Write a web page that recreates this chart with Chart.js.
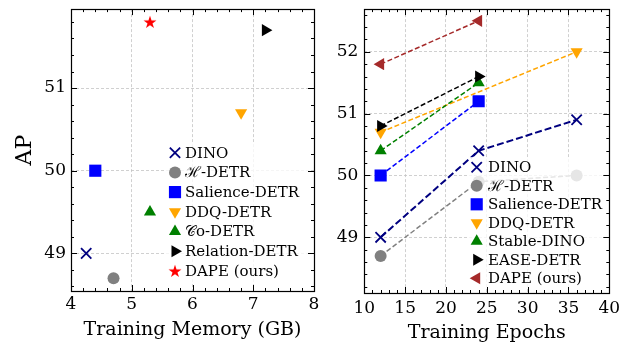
<!DOCTYPE html>
<html>
<head>
<meta charset="utf-8">
<script src="https://cdn.jsdelivr.net/npm/chart.js@4/dist/chart.umd.min.js"></script>
<style>
  body { margin: 0; background: #fff; }
  #left { position: absolute; left: 0; top: 0; width: 330px; height: 350px; }
  #right { position: absolute; left: 330px; top: 0; width: 303px; height: 350px; }
</style>
</head>
<body>
<div id="left"><canvas id="memChart" width="330" height="350"></canvas></div>
<div id="right"><canvas id="epochChart" width="303" height="350"></canvas></div>
<script>
// left panel: AP vs training memory
var methodsMem = ['DINO', 'ℋ-DETR', 'Salience-DETR', 'DDQ-DETR', '𝒞o-DETR', 'Relation-DETR', 'DAPE (ours)'];
var memoryGB = [4.25, 4.7, 4.4, 6.8, 5.3, 7.2, 5.3];
var memoryAP = [49.0, 48.7, 50.0, 50.7, 49.5, 51.7, 51.8];
var memXTicks = [4, 5, 6, 7, 8];
var memYTicks = [49, 50, 51];

// right panel: AP vs training epochs
var methodsEp = ['DINO', 'ℋ-DETR', 'Salience-DETR', 'DDQ-DETR', 'Stable-DINO', 'EASE-DETR', 'DAPE (ours)'];
var epochsDINO = [12, 24, 36];
var apDINO = [49.0, 50.4, 50.9];
var epochsHDETR = [12, 24, 36];
var apHDETR = [48.7, 49.9, 50.0];
var epochsSalience = [12, 24];
var apSalience = [50.0, 51.2];
var epochsDDQ = [12, 36];
var apDDQ = [50.7, 52.0];
var epochsStable = [12, 24];
var apStable = [50.4, 51.5];
var epochsEASE = [12, 24];
var apEASE = [50.8, 51.6];
var epochsDAPE = [12, 24];
var apDAPE = [51.8, 52.5];
var epXTicks = [10, 15, 20, 25, 30, 35, 40];
var epYTicks = [49, 50, 51, 52];

var SERIF = '"DejaVu Serif", serif';

function makeStar(color, r) {
  var c = document.createElement('canvas');
  var s = Math.ceil(r * 2) + 2;
  c.width = s; c.height = s;
  var g = c.getContext('2d');
  g.fillStyle = color;
  g.beginPath();
  for (var i = 0; i < 10; i++) {
    var rr = i % 2 ? r * 0.382 : r;
    var a = -Math.PI / 2 + i * Math.PI / 5;
    g.lineTo(s / 2 + rr * Math.cos(a), s / 2 + 0.6 + rr * Math.sin(a));
  }
  g.closePath();
  g.fill();
  return c;
}

var memMarkers = [
  {color: '#000080', style: 'crossRot', rot: 0, r: 7.3, bw: 1.8},
  {color: '#808080', style: 'circle', rot: 0, r: 6, bw: 0},
  {color: '#0000ff', style: 'rect', rot: 0, r: 8.6, bw: 0},
  {color: '#ffa500', style: 'triangle', rot: 180, r: 7, bw: 0},
  {color: '#008000', style: 'triangle', rot: 0, r: 7, bw: 0},
  {color: '#000000', style: 'triangle', rot: 90, r: 7, bw: 0},
  {color: '#ff0000', style: makeStar('#ff0000', 6.8), rot: 0, r: 7, bw: 0}
];
var epMarkers = memMarkers.slice(0, 6).concat([
  {color: '#a52a2a', style: 'triangle', rot: -90, r: 7, bw: 0}
]);
epMarkers = epMarkers.map(function (m, i) {
  return Object.assign({}, m, {
    lw: i === 0 ? 2 : 1.5,
    dash: i === 0 ? [7, 3] : [5, 2.5]
  });
});
var epochSeries = [
  [epochsDINO, apDINO], [epochsHDETR, apHDETR], [epochsSalience, apSalience],
  [epochsDDQ, apDDQ], [epochsStable, apStable], [epochsEASE, apEASE], [epochsDAPE, apDAPE]
];

// inward ticks on all four sides + black frame
var framePlugin = {
  id: 'frame',
  afterDraw: function (chart, args, o) {
    var ctx = chart.ctx, a = chart.chartArea;
    var xs = chart.scales.x, ys = chart.scales.y;
    ctx.save();
    ctx.strokeStyle = '#000';
    ctx.lineWidth = 1;
    ctx.beginPath();
    function isMajor(v, step) {
      return Math.abs(v / step - Math.round(v / step)) < 1e-6;
    }
    var v, p, len;
    for (v = Math.ceil(xs.min / o.xMinor - 1e-6) * o.xMinor; v <= xs.max + 1e-6; v += o.xMinor) {
      p = Math.round(xs.getPixelForValue(v)) + 0.5;
      len = isMajor(v, o.xMajor) ? 6 : 3;
      ctx.moveTo(p, a.bottom); ctx.lineTo(p, a.bottom - len);
      ctx.moveTo(p, a.top); ctx.lineTo(p, a.top + len);
    }
    for (v = Math.ceil(ys.min / o.yMinor - 1e-6) * o.yMinor; v <= ys.max + 1e-6; v += o.yMinor) {
      p = Math.round(ys.getPixelForValue(v)) + 0.5;
      len = isMajor(v, o.yMajor) ? 6 : 3;
      ctx.moveTo(a.left, p); ctx.lineTo(a.left + len, p);
      ctx.moveTo(a.right, p); ctx.lineTo(a.right - len, p);
    }
    ctx.stroke();
    ctx.lineWidth = 1.2;
    ctx.strokeRect(Math.round(a.left) + 0.5, Math.round(a.top) + 0.5,
      Math.round(a.right) - Math.round(a.left), Math.round(a.bottom) - Math.round(a.top));
    ctx.restore();
  }
};

// legend drawn inside the plot with a semi-opaque white box
var boxLegend = {
  id: 'boxLegend',
  afterDatasetsDraw: function (chart, args, o) {
    var ctx = chart.ctx;
    ctx.save();
    ctx.fillStyle = 'rgba(255,255,255,0.8)';
    ctx.fillRect(o.x, o.y, o.w, o.h);
    ctx.font = '15px ' + SERIF;
    ctx.textBaseline = 'middle';
    chart.data.datasets.forEach(function (ds, i) {
      var y = o.top + i * o.step;
      ctx.fillStyle = ds.pointBackgroundColor;
      ctx.strokeStyle = ds.pointBorderColor;
      ctx.lineWidth = ds.pointBorderWidth;
      Chart.helpers.drawPoint(ctx, {
        pointStyle: ds.pointStyle, rotation: ds.pointRotation,
        radius: ds.pointRadius, borderWidth: ds.pointBorderWidth
      }, o.markerX, y);
      ctx.fillStyle = '#000';
      ctx.fillText(ds.label, o.textX, y + 1);
    });
    ctx.restore();
  }
};

function gridOpts() {
  return {color: '#c4c4c4', lineWidth: 0.8, drawTicks: false};
}

function axes(xMin, xMax, xTicks, yMin, yMax, yTicks, yWidth, xHeight, xPad, yPad, xTitle, xTitlePad, yTitle) {
  return {
    x: {
      type: 'linear', min: xMin, max: xMax,
      grid: gridOpts(),
      border: {display: false, dash: [3, 2]},
      ticks: {font: {family: SERIF, size: 17}, color: '#000', padding: xPad, maxRotation: 0},
      afterBuildTicks: function (s) { s.ticks = xTicks.map(function (t) { return {value: t}; }); },
      afterFit: function (s) { s.height = xHeight; s.paddingLeft = 0; s.paddingRight = 0; },
      title: {display: true, text: xTitle, color: '#000',
        font: {family: SERIF, size: 19, lineHeight: 1}, padding: {top: 0, bottom: xTitlePad}}
    },
    y: {
      type: 'linear', min: yMin, max: yMax,
      grid: gridOpts(),
      border: {display: false, dash: [3, 2]},
      ticks: {font: {family: SERIF, size: 17}, color: '#000', padding: yPad},
      afterBuildTicks: function (s) { s.ticks = yTicks.map(function (t) { return {value: t}; }); },
      afterFit: function (s) { s.width = yWidth; s.paddingTop = 0; s.paddingBottom = 0; },
      title: {display: !!yTitle, text: yTitle || '', color: '#000',
        font: {family: SERIF, size: 22, lineHeight: 1}, padding: {top: 14, bottom: 0}}
    }
  };
}

var memSets = methodsMem.map(function (name, i) {
  var m = memMarkers[i];
  return {
    label: name,
    data: [{x: memoryGB[i], y: memoryAP[i]}],
    showLine: false,
    order: methodsMem.length - i,
    pointStyle: m.style, pointRotation: m.rot, pointRadius: m.r,
    pointBackgroundColor: m.color, pointBorderColor: m.color, pointBorderWidth: m.bw
  };
});

new Chart(document.getElementById('memChart'), {
  type: 'scatter',
  data: {datasets: memSets},
  options: {
    responsive: false,
    animation: false,
    events: [],
    layout: {padding: {left: 0, top: 4, right: 16, bottom: 0}},
    scales: axes(4, 8, memXTicks, 48.545, 51.955, memYTicks, 71, 59, 3, 5,
      'Training Memory (GB)', 10.5, 'AP'),
    plugins: {
      legend: {display: false},
      tooltip: {enabled: false},
      frame: {xMajor: 1, xMinor: 0.2, yMajor: 1, yMinor: 0.2},
      boxLegend: {x: 164, y: 142, w: 147, h: 141, top: 152.7, step: 19.7, markerX: 175, textX: 185}
    }
  },
  plugins: [framePlugin, boxLegend]
});

var epSets = methodsEp.map(function (name, i) {
  var m = epMarkers[i];
  var s = epochSeries[i];
  return {
    label: name,
    data: s[0].map(function (e, j) { return {x: e, y: s[1][j]}; }),
    showLine: true,
    order: methodsEp.length - i,
    borderColor: m.color, borderWidth: m.lw, borderDash: m.dash,
    pointStyle: m.style, pointRotation: m.rot, pointRadius: m.r,
    pointBackgroundColor: m.color, pointBorderColor: m.color, pointBorderWidth: m.bw
  };
});

new Chart(document.getElementById('epochChart'), {
  type: 'scatter',
  data: {datasets: epSets},
  options: {
    responsive: false,
    animation: false,
    events: [],
    layout: {padding: {left: 0, top: 2, right: 23.7, bottom: 0}},
    scales: axes(10, 40, epXTicks, 48.1, 52.69, epYTicks, 34.3, 57, 5, 6,
      'Training Epochs', 7, null),
    plugins: {
      legend: {display: false},
      tooltip: {enabled: false},
      frame: {xMajor: 5, xMinor: 1, yMajor: 1, yMinor: 0.2},
      boxLegend: {x: 139, y: 157, w: 138, h: 131, top: 167.3, step: 18.5, markerX: 146.7, textX: 158}
    }
  },
  plugins: [framePlugin, boxLegend]
});
</script>
</body>
</html>
